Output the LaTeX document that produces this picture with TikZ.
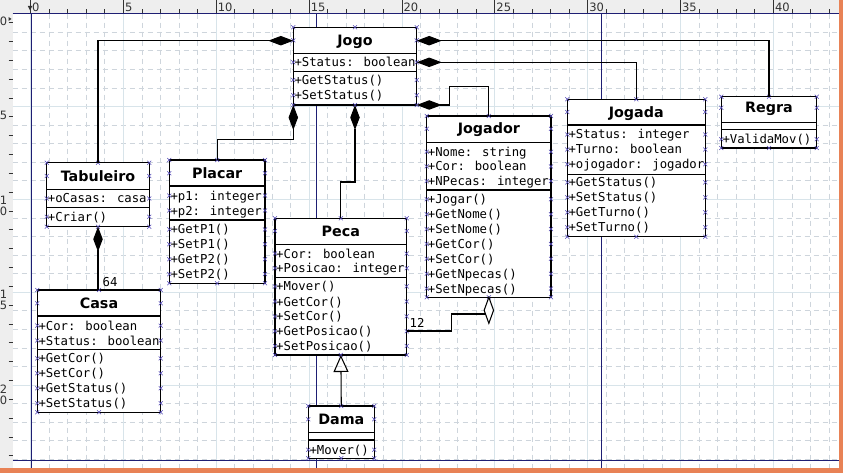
\documentclass[tikz,border=0pt]{standalone}
\usepackage{fontspec}
\setmainfont{DejaVu Sans}
\newfontfamily\monofont{DejaVu Sans Mono}
\usetikzlibrary{arrows.meta}
\definecolor{navyline}{RGB}{30,30,115}
\definecolor{cptcol}{RGB}{80,70,180}
\definecolor{gridmin}{RGB}{206,213,220}
\definecolor{gridmaj}{RGB}{216,228,234}
\definecolor{orng}{RGB}{232,130,86}
\definecolor{rulerbg}{RGB}{238,238,238}
\definecolor{rulerfg}{RGB}{50,50,50}

\tikzset{
  box/.style={draw=black, line width=1.05pt, fill=white, inner sep=0pt, outer sep=0pt},
  sepline/.style={line width=1.05pt},
  ttl/.style={font=\fontsize{14.3}{16}\selectfont\bfseries, text height=10.4pt, text depth=0pt, inner sep=0pt},
  row/.style={font=\monofont\fontsize{12.3}{14}\selectfont, anchor=west, text height=9pt, text depth=0pt, inner sep=0pt},
  conn/.style={line width=1.05pt},
  comp/.style={conn, -{Diamond[length=25pt,width=9.5pt]}},
  gen/.style={conn, -{Triangle[open,length=17pt,width=15pt]}},
  cpt/.style={cptcol, line width=0.55pt},
  gridminor/.style={gridmin, line width=0.7pt, dash pattern=on 5pt off 4pt},
  gridmajor/.style={gridmaj, line width=0.8pt},
  pagebrk/.style={navyline, line width=1pt},
  rul/.style={font=\fontsize{11.5}{12}\selectfont, text=rulerfg, inner sep=0pt},
  tick/.style={rulerfg, line width=0.7pt},
}

\newcommand{\cpx}[2]{\draw[cpt] ({#1-2},{#2-2}) -- ({#1+2},{#2+2}) ({#1-2},{#2+2}) -- ({#1+2},{#2-2});}

\newcommand{\umlclass}[9]{%
  \node[box, anchor=north west, minimum width={(#4)-(#2)}, minimum height={(#5)-(#3)}] (#1) at (#2,#3) {};
  \draw[sepline] (#2,#6) -- (#4,#6) (#2,#7) -- (#4,#7);
  \node[ttl] (#1t) at ({(#2+#4)/2},#8) {#9};
  \cpx{#2}{#3}\cpx{#4}{#3}\cpx{#2}{#5}\cpx{#4}{#5}
  \cpx{(#2+#4)/2}{#3}\cpx{(#2+#4)/2}{#5}
  \cpx{#2}{#8}\cpx{#4}{#8}
}
\newcommand{\umlrows}[4]{%
  \foreach \yy/\txt [count=\i] in {#4} {
    \node[row] (#1\i) at ({#2+1},\yy) {\txt};
    \cpx{#2}{\yy}\cpx{#3}{\yy}
  }
}

\begin{document}
\begin{tikzpicture}[x=1pt,y=-1pt]
\useasboundingbox (0,0) rectangle (843,473);
% canvas and rulers
\fill[white] (0,0) rectangle (843,473);
\fill[rulerbg] (0,0) rectangle (843,13.7);
\fill[rulerbg] (0,0) rectangle (12.5,473);
% grid
\foreach \k in {0,...,43} \draw[gridminor] ({30.5+18.57*\k},13.7) -- ({30.5+18.57*\k},468.3);
\foreach \k in {0,...,24} \draw[gridminor] (12.5,{13.7+18.57*\k}) -- (838.5,{13.7+18.57*\k});
\foreach \k in {0,5,...,40} \draw[gridmajor] ({30.5+18.57*\k},13.7) -- ({30.5+18.57*\k},468.3);
\foreach \k in {0,5,...,20} \draw[gridmajor] (12.5,{13.7+18.57*\k}) -- (838.5,{13.7+18.57*\k});
% top ruler
\foreach \k in {0,...,43} \draw[tick] ({30.5+18.57*\k},9.5) -- ({30.5+18.57*\k},13.7);
\foreach \k in {0,5,...,40} {
  \draw[tick] ({30.5+18.57*\k},0) -- ({30.5+18.57*\k},13.7);
  \node[rul, anchor=west] (rx\k) at ({32+18.57*\k},7) {\k};
}
\fill[rulerfg] (27.8,6) -- (32.3,6) -- (30,10.5) -- cycle;
% left ruler
\foreach \k in {0,...,24} \draw[tick] (8.5,{22.5+18.84*\k}) -- (12.5,{22.5+18.84*\k});
\node[rul] (ly0) at (3.5,21.5) {0};
\node[rul] (ly5) at (3.5,115.2) {5};
\node[rul] (ly10a) at (3.5,200.5) {1};
\node[rul] (ly10b) at (3.5,211.5) {0};
\node[rul] (ly15a) at (3.5,294.7) {1};
\node[rul] (ly15b) at (3.5,305.7) {5};
\node[rul] (ly20a) at (3.5,388.9) {2};
\node[rul] (ly20b) at (3.5,399.9) {0};
\fill[rulerfg] (8.5,17) -- (8.5,21) -- (11.5,19) -- cycle;
% page breaks
\draw[pagebrk] (31,13.7) -- (31,468.3) (316,13.7) -- (316,468.3) (601,13.7) -- (601,468.3);
\draw[pagebrk] (12.5,13.7) -- (838.5,13.7) (12.5,460) -- (838.5,460);
% orange frame
\fill[orng] (838.5,0) rectangle (843,473);
\fill[orng] (0,468.3) rectangle (843,473);

% classes
\umlclass{jogo}{293.3}{27.3}{416.7}{105}{53.3}{71.7}{40.4}{Jogo}
\umlrows{jogoa}{293.3}{416.7}{62.3/{+Status: boolean}}
\umlrows{jogom}{293.3}{416.7}{80/{+GetStatus()}, 95.2/{+SetStatus()}}

\umlclass{tab}{46.7}{162.7}{149.3}{226.7}{189.3}{207.3}{176}{Tabuleiro}
\umlrows{taba}{46.7}{149.3}{198.5/{+oCasas: casa}}
\umlrows{tabm}{46.7}{149.3}{216.8/{+Criar()}}

\umlclass{placar}{169.3}{160}{265}{283.3}{186}{220}{173.2}{Placar}
\umlrows{placara}{169.3}{265}{195.6/{+p1: integer}, 210.5/{+p2: integer}}
\umlrows{placarm}{169.3}{265}{229.4/{+GetP1()}, 244.3/{+SetP1()}, 259.2/{+GetP2()}, 274.1/{+SetP2()}}

\umlclass{peca}{275}{218.3}{406.7}{355}{244.3}{277.3}{231}{Peca}
\umlrows{pecaa}{275}{406.7}{253.6/{+Cor: boolean}, 268.3/{+Posicao: integer}}
\umlrows{pecam}{275}{406.7}{286.4/{+Mover()}, 301.5/{+GetCor()}, 316.4/{+SetCor()}, 331.3/{+GetPosicao()}, 346/{+SetPosicao()}}

\umlclass{jogador}{426.7}{116}{551}{297.3}{142.3}{190}{128.8}{Jogador}
\umlrows{jogadora}{426.7}{551}{151.7/{+Nome: string}, 166.4/{+Cor: boolean}, 181.1/{+NPecas: integer}}
\umlrows{jogadorm}{426.7}{551}{199.3/{+Jogar()}, 214.2/{+GetNome()}, 229.1/{+SetNome()}, 243.9/{+GetCor()}, 258.8/{+SetCor()}, 273.7/{+GetNpecas()}, 288.6/{+SetNpecas()}}

\umlclass{jogada}{567.3}{99.3}{705.3}{236.7}{125}{174.3}{112}{Jogada}
\umlrows{jogadaa}{567.3}{705.3}{134.5/{+Status: integer}, 149.5/{+Turno: boolean}, 164.3/{+ojogador: jogador}}
\umlrows{jogadam}{567.3}{705.3}{182.4/{+GetStatus()}, 197.4/{+SetStatus()}, 212.4/{+GetTurno()}, 227.3/{+SetTurno()}}

\umlclass{regra}{721.3}{96.7}{816.7}{148}{122.3}{129.3}{107.8}{Regra}
\umlrows{regram}{721.3}{816.7}{139.2/{+ValidaMov()}}

\umlclass{casa}{37.3}{290}{160.7}{412.3}{316}{349.3}{303.3}{Casa}
\umlrows{casaa}{37.3}{160.7}{325.6/{+Cor: boolean}, 340.5/{+Status: boolean}}
\umlrows{casam}{37.3}{160.7}{358.4/{+GetCor()}, 373.3/{+SetCor()}, 388.3/{+GetStatus()}, 403.2/{+SetStatus()}}

\umlclass{dama}{308.3}{406}{374.3}{458.3}{432.3}{440}{419.3}{Dama}
\umlrows{damam}{308.3}{374.3}{449.7/{+Mover()}}

% connectors
\draw[comp] (tab.north) |- (jogo.west |- 0,40.7);
\draw[comp] (regra.north) |- (jogo.east |- 0,40.7);
\draw[comp] (jogada.north) |- (jogo.east |- 0,62.3);
\draw[comp] (jogador.north) |- (449.3,86.7) |- (jogo.south east);
\draw[comp] (placar.north) |- (jogo.south west |- 0,139.3) -- (jogo.south west);
\draw[comp] (peca.north) |- (jogo.south |- 0,182) -- (jogo.south);
\draw[comp] (tab.south |- casa.north) -- (tab.south);
\node[row] (m64) at (102.5,281.7) {64};
\draw[conn] (peca.east |- 0,331) -| (451.7,314) -| (jogador.south);
\draw[conn, fill=white] (jogador.south) -- ++(4.7,13) -- ++(-4.7,13) -- ++(-4.7,-13) -- cycle;
\node[row] (m12) at (409.5,323.3) {12};
\draw[gen] (dama.north) -- (peca.south);
\end{tikzpicture}
\end{document}
